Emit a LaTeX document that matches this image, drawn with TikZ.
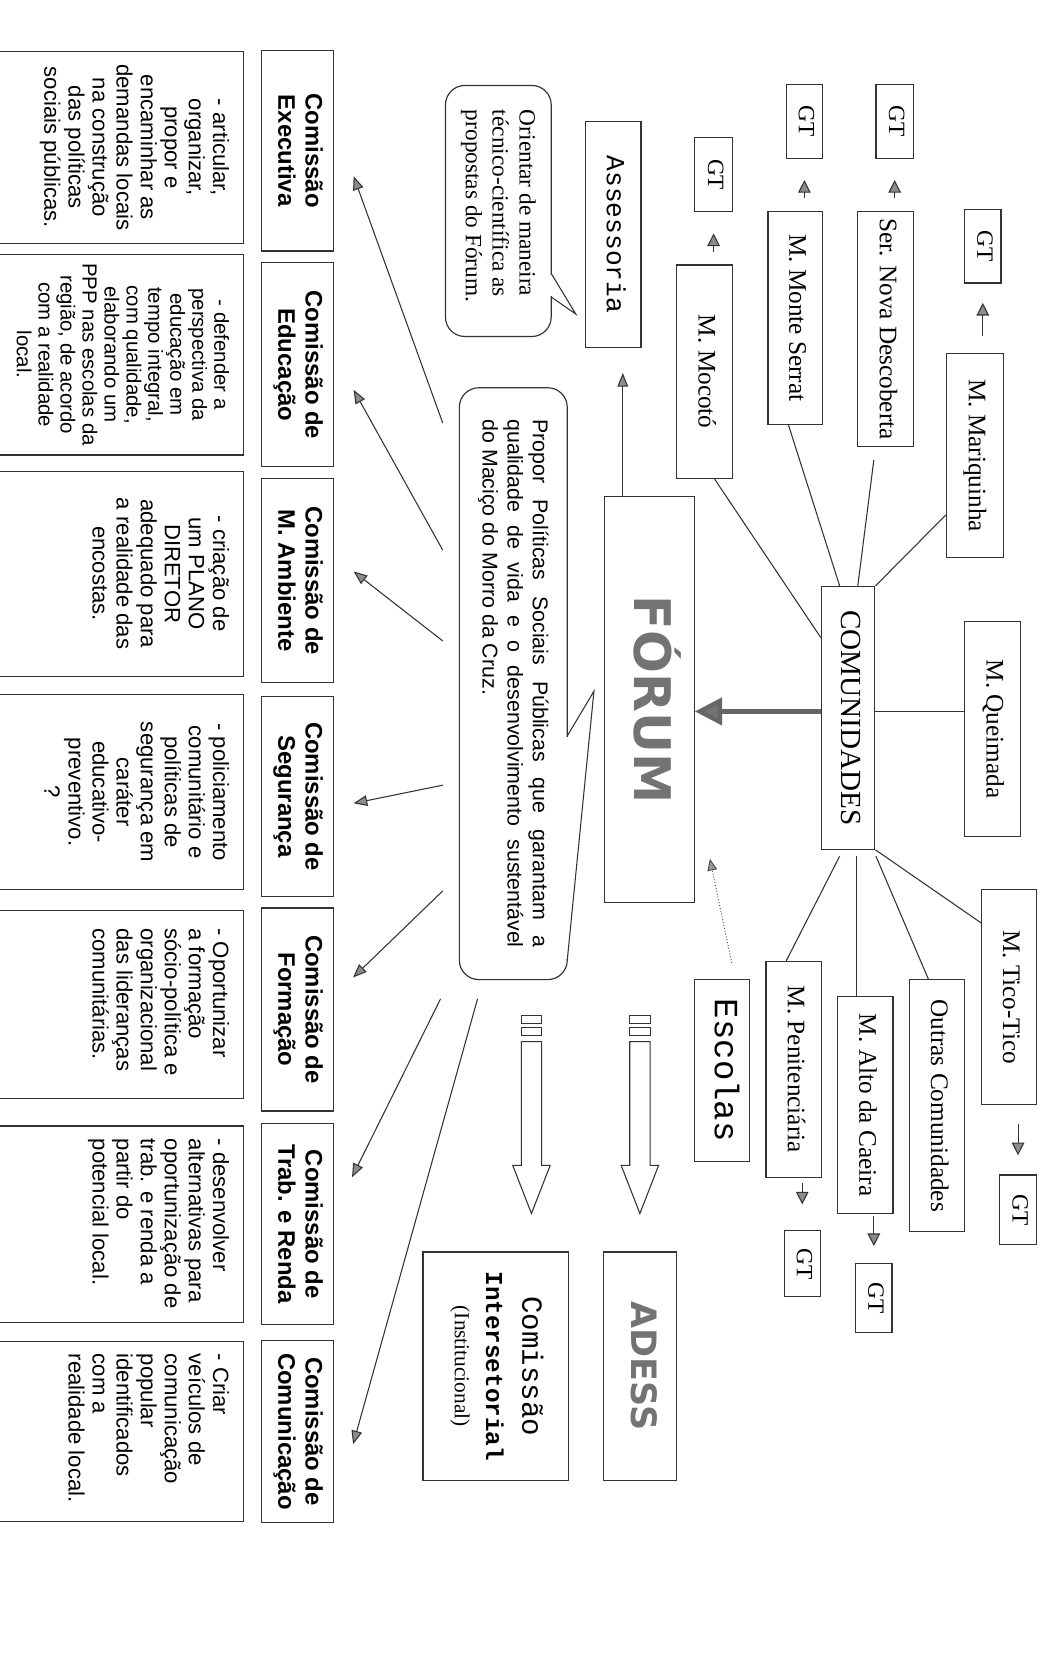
\documentclass[tikz,border=0pt]{standalone}
\usepackage{fontspec}
\setmainfont{Liberation Serif}
\setsansfont{Liberation Sans}
\setmonofont{Liberation Mono}
\newfontfamily\heavyfont{DejaVu Sans}
\usetikzlibrary{arrows.meta,calc}

% rotated text (reads from top to bottom)
\newcommand\rt[1]{\rotatebox{-90}{\begin{tabular}{@{}c@{}}#1\end{tabular}}}
\newcommand\dtext[2]{\rotatebox{-90}{\parbox[c][116pt][t]{#1}{#2}}}

\tikzset{
  box/.style 2 args={draw=black!80, line width=0.6pt, inner sep=0pt,
    minimum width=#1*0.55pt, minimum height=#2*0.55pt},
  title/.style={font=\sffamily\bfseries\fontsize{12.3}{14}\selectfont},
  desc/.style={font=\sffamily\fontsize{11.4}{12.4}\selectfont},
  comm/.style={font=\fontsize{13}{15}\selectfont},
  gt/.style={font=\fontsize{12}{14}\selectfont},
  bubble/.style 2 args={box={#1}{#2}, rounded corners=10pt, fill=white},
  link/.style={draw=black!80, line width=0.55pt},
  arr/.style={link, -{Triangle[length=7pt,width=5.5pt,fill=black!45]}},
  gtarr/.style={link, -{Triangle[length=6.5pt,width=6.5pt,fill=black!45]}},
  bigarr/.style={draw=black!60, line width=2.2pt, -{Triangle[length=14pt,width=14pt,fill=black!55]}},
  dotarr/.style={draw=black!70, line width=0.5pt, densely dotted, -{Triangle[length=6pt,width=5pt,fill=black!40]}},
}

\begin{document}
\begin{tikzpicture}[x=0.55pt, y=-0.55pt]
\useasboundingbox (0,0) rectangle (976,1568);

% comissoes
\node[box={67}{188}, title] (t1) at (278.5,141) {\rt{Comissão\\ Executiva}};
\node[box={67}{191}, title] (t2) at (278.5,341.5) {\rt{Comissão de\\ Educação}};
\node[box={67}{191}, title] (t3) at (278.5,543.5) {\rt{Comissão de\\ M. Ambiente}};
\node[box={67}{187}, title] (t4) at (278.5,745.5) {\rt{Comissão de\\ Segurança}};
\node[box={67}{190}, title] (t5) at (278.5,945) {\rt{Comissão de\\ Formação}};
\node[box={67}{188}, title] (t6) at (278.5,1146) {\rt{Comissão de\\ Trab. e Renda}};
\node[box={67}{170}, title] (t7) at (278.5,1340) {\rt{Comissão de\\ Comunicação}};

\node[box={238}{180}, desc] (d1) at (109,138) {\dtext{95pt}{\centering - articular,\\ organizar,\\ propor e\\ encaminhar as\\ demandas locais\\ na construção\\ das políticas\\ sociais públicas.}};
\node[box={238}{188}, desc, font=\sffamily\fontsize{10.5}{11.3}\selectfont] (d2) at (109,332) {\dtext{100pt}{\centering - defender a\\ perspectiva da\\ educação em\\ tempo integral,\\ com qualidade,\\ elaborando um\\ PPP nas escolas da\\ região, de acordo\\ com a realidade\\ local.}};
\node[box={238}{192}, desc] (d3) at (109,537) {\dtext{97pt}{\centering - criação de\\ um PLANO\\ DIRETOR\\ adequado para\\ a realidade das\\ encostas.}};
\node[box={238}{183}, desc] (d4) at (109,741.5) {\dtext{94pt}{\centering - policiamento\\ comunitário e\\ políticas de\\ segurança em\\ caráter\\ educativo-\\ preventivo.\\ ?}};
\node[box={238}{176}, desc] (d5) at (109,940) {\dtext{78pt}{\raggedright - Oportunizar\\ a formação\\ sócio-política e\\ organizacional\\ das lideranças\\ comunitárias.}};
\node[box={238}{184}, desc] (d6) at (109,1146) {\dtext{88pt}{\raggedright - desenvolver\\ alternativas para\\ oportunização de\\ trab. e renda a\\ partir do\\ potencial local.}};
\node[box={238}{168}, desc] (d7) at (109,1340) {\dtext{80pt}{\raggedright - Criar\\ veículos de\\ comunicação\\ popular\\ identificados\\ com a\\ realidade local.}};

% baloes
\node[bubble={99}{235}] (orient) at (466.5,197.5) {\rotatebox{-90}{\parbox{104pt}{\raggedright\fontsize{12}{13.8}\selectfont Orientar de maneira\\ técnico-científica as\\ propostas do Fórum.}}};
\fill[white] (514.5,257) rectangle (517.5,277);
\draw[link] (516,256) -- (539,294) -- (516,278);

\node[bubble={101}{554}] (prop) at (480.5,640) {\rotatebox{-90}{\parbox{272pt}{\sffamily\fontsize{11}{12.9}\selectfont Propor Políticas Sociais Públicas que garantam a\linebreak qualidade de vida e o desenvolvimento sustentável\linebreak do Maciço do Morro da Cruz.}}};
\fill[white] (529.5,690) rectangle (532.5,898);
\draw[link] (531,689) -- (556,647) -- (531,899);

% centro
\node[box={84}{380}, font=\heavyfont\bfseries\fontsize{26}{30}\selectfont, text=black!55] (forum) at (608,655) {\rt{FÓRUM}};
\node[box={52}{211}, font=\ttfamily\fontsize{13.5}{16}\selectfont] (assess) at (574,219.5) {\rt{Assessoria}};
\node[box={50}{246}, font=\fontsize{15}{17}\selectfont] (com) at (794,672) {\rt{COMUNIDADES}};
\node[box={52}{170}, font=\ttfamily\fontsize{17.5}{19}\selectfont] (esc) at (676,1002) {\rt{Escolas}};
\node[box={68}{214}, font=\heavyfont\bfseries\fontsize{18}{22}\selectfont, text=black!55] (adess) at (599,1279) {\rt{ADESS}};
\node[box={136}{214}] (inter) at (464,1279) {\rt{{\ttfamily\fontsize{15}{16}\selectfont Comissão}\\[6pt] {\ttfamily\bfseries\fontsize{12.5}{15}\selectfont Intersetorial}\\[4pt] {\fontsize{11}{13}\selectfont (Institucional)}}};

% comunidades
\node[box={53}{200}, comm] (moco) at (659.5,348) {\rt{M. Mocotó}};
\node[box={51}{199}, comm] (mont) at (744.5,297.5) {\rt{M. Monte Serrat}};
\node[box={52}{220}, comm] (nova) at (829,308) {\rt{Ser. Nova Descoberta}};
\node[box={53}{191}, comm] (mariq) at (912.5,426.5) {\rt{M. Mariquinha}};
\node[box={52}{201}, comm] (queim) at (929,682.5) {\rt{M. Queimada}};
\node[box={51}{201}, comm] (tico) at (944.5,933.5) {\rt{M. Tico-Tico}};
\node[box={52}{236}, comm] (outras) at (877,1035) {\rt{Outras Comunidades}};
\node[box={52}{203}, comm] (alto) at (810,1034.5) {\rt{M. Alto da Caeira}};
\node[box={52}{202}, comm] (penit) at (743,1001) {\rt{M. Penitenciária}};

\node[box={36}{69}, gt] (gta) at (668,163.5) {\rt{GT}};
\node[box={34}{69}, gt] (gtb) at (753,113.5) {\rt{GT}};
\node[box={35}{69}, gt] (gtc) at (837.5,113.5) {\rt{GT}};
\node[box={34}{69}, gt] (gtd) at (920,230.5) {\rt{GT}};
\node[box={34}{65}, gt] (gte) at (953,1132.5) {\rt{GT}};
\node[box={34}{64}, gt] (gtf) at (818,1215) {\rt{GT}};
\node[box={34}{62}, gt] (gtg) at (751,1183) {\rt{GT}};

% ligacoes
\draw[link] (moco.south -| 669,0) -- (com.west |- 0,597);
\draw[link] (mont.south -| 738,0) -- (com.north -| 786,0);
\draw[link] ($(nova.south -| 818,0)+(0,12)$) -- (com.north -| 803,0);
\draw[link] (mariq.west |- 0,482) -- (com.north east);
\draw[link] (com.east |- 0,666) -- (queim.west |- 0,666);
\draw[link] (com.south east) -- (tico.west |- 0,864);
\draw[link] ($(com.south -| 820,0)+(0,6)$) -- (outras.north -| 869,0);
\draw[link] ($(com.south -| 802,0)+(0,6)$) -- (alto.north -| 802,0);
\draw[link] ($(com.south -| 786,0)+(0,6)$) -- (penit.north -| 736,0);

\draw[gtarr, shorten <=6.6pt, shorten >=11pt] (moco.north -| gta) -- (gta.south);
\draw[gtarr, shorten <=6.6pt, shorten >=11pt] (mont.north -| gtb) -- (gtb.south);
\draw[gtarr, shorten <=6.6pt, shorten >=11pt] (nova.north -| gtc) -- (gtc.south);
\draw[gtarr, shorten <=8.8pt, shorten >=9.9pt] (mariq.north -| gtd) -- (gtd.south);
\draw[gtarr, shorten <=9.9pt, shorten >=9.9pt] (tico.south -| gte) -- (gte.north);
\draw[gtarr, shorten <=1.1pt, shorten >=8.8pt] (alto.south -| gtf) -- (gtf.north);
\draw[gtarr, shorten <=2.8pt, shorten >=13.2pt] (penit.south -| gtg) -- (gtg.north);

\draw[bigarr] (com.west |- 0,666) -- (forum.east |- 0,666);
\draw[arr, shorten >=13pt] (forum.north -| 583,0) -- (assess.south -| 583,0);
\draw[dotarr] ($(esc.north -| 685,0)+(0,-15)$) -- ($(forum.east |- 0,804)+(14,0)$);

% setas para as comissoes
\draw[arr] ($(prop.west |- 0,396)+(-15,0)$) -- ($(t1.east |- 0,165)+(18.5,0)$);
\draw[arr] ($(prop.west |- 0,515)+(-15,0)$) -- ($(t2.east |- 0,365)+(18.5,0)$);
\draw[arr] ($(prop.west |- 0,600)+(-15,0)$) -- ($(t3.east |- 0,535)+(18.5,0)$);
\draw[arr] ($(prop.west |- 0,735)+(-15,0)$) -- ($(t4.east |- 0,752)+(18.5,0)$);
\draw[arr] ($(prop.west |- 0,834)+(-15,0)$) -- ($(t5.east |- 0,915)+(18,0)$);
\draw[arr] ($(prop.west |- 0,935)+(-17,0)$) -- ($(t6.east |- 0,1102)+(17,0)$);
\draw[arr] ($(prop.west |- 0,935)+(17.6,0)$) -- ($(t7.east |- 0,1352)+(18,0)$);

% setas listradas
\draw[link] (589.5,951) rectangle (608.5,958);
\draw[link] (589.5,962) rectangle (608.5,969);
\draw[link] (589.5,975) -- (589.5,1091) -- (581.5,1091) -- (599,1136) -- (616.5,1091) -- (608.5,1091) -- (608.5,975) -- cycle;
\draw[link] (488,951) rectangle (507,958);
\draw[link] (488,962) rectangle (507,969);
\draw[link] (488,975) -- (488,1091) -- (480,1091) -- (497.5,1136) -- (515,1091) -- (507,1091) -- (507,975) -- cycle;
\end{tikzpicture}
\end{document}
